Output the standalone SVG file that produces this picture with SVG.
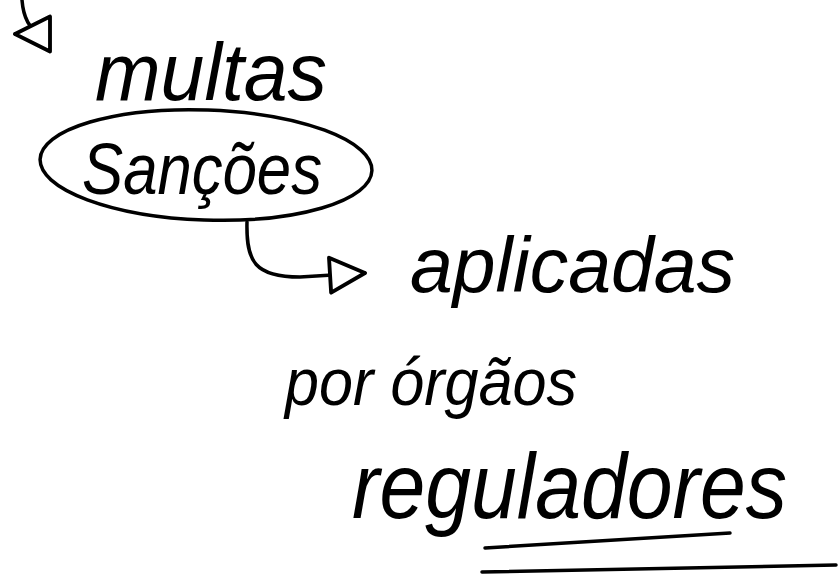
<svg xmlns="http://www.w3.org/2000/svg" width="838" height="584" viewBox="0 0 838 584">
<style>
.t{font-family:"Liberation Sans","DejaVu Sans",sans-serif;font-style:italic;fill:#000}
.ln{fill:none;stroke:#000;stroke-width:3.5;stroke-linecap:round}
</style>
<defs>
<marker id="tri" viewBox="0 0 12 12" refX="11" refY="6" markerWidth="12" markerHeight="12" markerUnits="strokeWidth" orient="auto">
<path d="M1,1 L11,6 L1,11 Z" fill="#fff" stroke="#000" stroke-width="1.1" stroke-linejoin="round"/>
</marker>
</defs>
<rect width="838" height="584" fill="#fff"/>
<g id="connectors">
<path class="ln" d="M22,0 Q24,26 40,34 L15,34" marker-end="url(#tri)"/>
<path class="ln" d="M247,222 C246,262 255,277 300,277 L365,273" marker-end="url(#tri)"/>
</g>
<g id="multas">
<text class="t" x="95" y="100" font-size="82" textLength="232" lengthAdjust="spacingAndGlyphs">multas</text>
</g>
<g id="sancoes">
<ellipse cx="206" cy="165" rx="166" ry="55" fill="none" stroke="#000" stroke-width="3.5" transform="rotate(2 206 165)"/>
<text class="t" x="82" y="194" font-size="72" textLength="240" lengthAdjust="spacingAndGlyphs">Sanções</text>
</g>
<g id="aplicadas">
<text class="t" x="410" y="292" font-size="78" textLength="325" lengthAdjust="spacingAndGlyphs">aplicadas</text>
</g>
<g id="por-orgaos">
<text class="t" x="285" y="405" font-size="66" textLength="292" lengthAdjust="spacingAndGlyphs">por órgãos</text>
</g>
<g id="reguladores">
<text class="t" x="352" y="518" font-size="92" textLength="435" lengthAdjust="spacingAndGlyphs">reguladores</text>
<path class="ln" d="M485,548 L730,533"/>
<path class="ln" d="M482,572 L836,565"/>
</g>
</svg>
